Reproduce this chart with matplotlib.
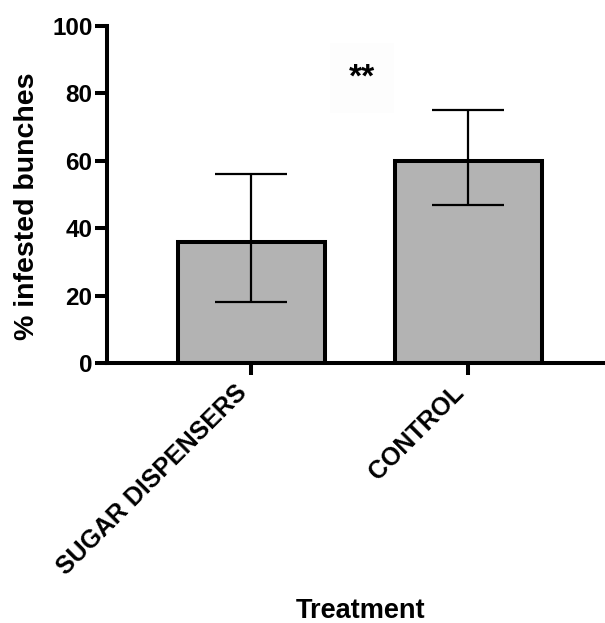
import matplotlib
matplotlib.use("Agg")
import matplotlib.pyplot as plt

plt.rcParams['font.family'] = ['Liberation Sans', 'DejaVu Sans']
plt.rcParams['font.weight'] = 'bold'

# data
treatments = ["SUGAR DISPENSERS", "CONTROL"]
infested = [36, 60]
err_low = [18, 13]
err_high = [20, 15]

BAR_COLOR = '#b3b3b3'
LW = 2.9

fig = plt.figure(figsize=(6.05, 6.23), dpi=100)
ax = fig.add_axes([107 / 605, 1 - 363 / 623, 1 - 107 / 605, 337 / 623])

x = list(range(len(treatments)))
ax.bar(x, infested, width=0.68, color=BAR_COLOR, edgecolor='black',
       linewidth=LW, zorder=2)
ax.errorbar(x, infested, yerr=[err_low, err_high], fmt='none', ecolor='black',
            elinewidth=1.6, capsize=26, capthick=1.6, zorder=3)

ax.set_xlim(-0.666, 1.63)
ax.set_ylim(0, 100)
ax.set_yticks([0, 20, 40, 60, 80, 100])

for s in ['top', 'right']:
    ax.spines[s].set_visible(False)
for s in ['left', 'bottom']:
    ax.spines[s].set_linewidth(LW)
    ax.spines[s].set_zorder(4)

ax.tick_params(axis='both', length=8.5, width=LW, pad=2)
ax.tick_params(axis='y', labelsize=17.5)
ax.tick_params(axis='x', labelsize=18, pad=4)
ax.set_xticks(x)
ax.set_xticklabels(treatments, rotation=45, ha='right', fontweight='bold')
for lab in ax.get_yticklabels():
    lab.set_fontweight('bold')

ax.set_ylabel("% infested bunches", fontsize=20.5, fontweight='bold')
ax.yaxis.set_label_coords(-0.134, (363 - 206.5) / 337)
ax.set_xlabel("Treatment", fontsize=19.5, fontweight='bold')
ax.xaxis.set_label_coords((361 - 107) / 498, (363 - 598) / 337)

ax.text((362 - 107) / 498, (363 - 78) / 337, "**", transform=ax.transAxes,
        ha='center', va='center', fontsize=24, fontweight='bold',
        bbox=dict(facecolor='#fdfdfd', edgecolor='none', pad=14))

fig.savefig("out.png", dpi=100)
